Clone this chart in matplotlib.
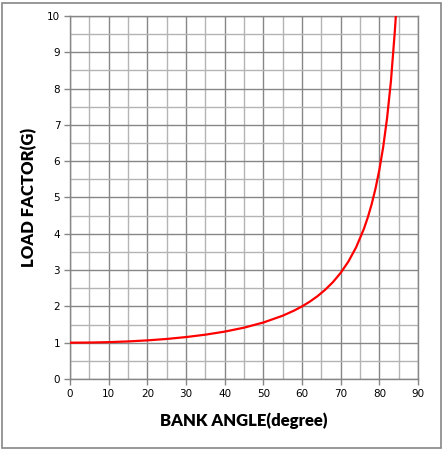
import matplotlib
matplotlib.use("Agg")
import matplotlib.pyplot as plt
from matplotlib.patches import Rectangle
from matplotlib.ticker import MultipleLocator

# load factor at each bank angle
bank_angle = [0, 5, 10, 15, 20, 25, 30, 35, 40, 45, 50, 55, 58, 60, 62, 64,
              66, 68, 70, 72, 74, 76, 77, 78, 79, 80, 81, 82, 83, 84, 84.3]
load_factor = [1.00, 1.004, 1.015, 1.035, 1.064, 1.103, 1.155, 1.221, 1.305,
               1.414, 1.556, 1.743, 1.887, 2.00, 2.130, 2.281, 2.459, 2.669,
               2.924, 3.236, 3.628, 4.134, 4.445, 4.810, 5.241, 5.759, 6.392,
               7.185, 8.206, 9.567, 10.05]

x_ticks = list(range(0, 91, 10))
y_ticks = list(range(0, 11))

major_grey = '#868686'
minor_grey = '#b4b4b4'

fig = plt.figure(figsize=(4.42, 4.49), dpi=100)
ax = fig.add_axes([70 / 442, 70 / 449, 348 / 442, 363 / 449])

ax.plot(bank_angle, load_factor, color='#ff0000', linewidth=1.6, zorder=3)

ax.set_xlim(0, 90)
ax.set_ylim(0, 10)
ax.set_xticks(x_ticks)
ax.set_yticks(y_ticks)
ax.xaxis.set_minor_locator(MultipleLocator(5))
ax.yaxis.set_minor_locator(MultipleLocator(0.5))

ax.grid(True, which='major', color=major_grey, linewidth=1.0)
ax.grid(True, which='minor', color=minor_grey, linewidth=1.0)
ax.set_axisbelow(True)

for side in ['left', 'bottom', 'right', 'top']:
    ax.spines[side].set_color(major_grey)
    ax.spines[side].set_linewidth(1.0)

ax.tick_params(axis='both', which='major', length=4, width=1.0,
               color=major_grey, labelsize=7.5, pad=3)
ax.tick_params(axis='both', which='minor', length=0)

ax.set_xlabel('BANK ANGLE(degree)', fontsize=12, fontweight='heavy',
              family='Lato', labelpad=10)
ax.set_ylabel('LOAD FACTOR(G)', fontsize=12, fontweight='heavy',
              family='Lato', labelpad=7)

# grey frame round the whole chart
fig.patches.append(Rectangle((1.5 / 442, 1.5 / 449), 439 / 442, 445 / 449,
                             transform=fig.transFigure, fill=False,
                             edgecolor=major_grey, linewidth=1.2))

fig.savefig('out.png', dpi=100)
